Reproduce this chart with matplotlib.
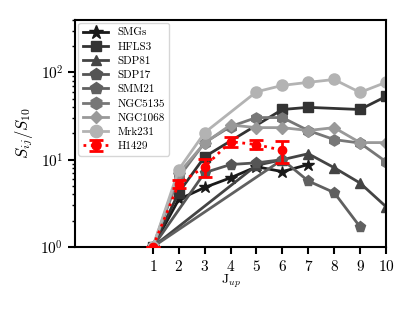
import matplotlib
matplotlib.use('Agg')
import matplotlib.pyplot as plt

plt.rcParams['font.family'] = 'serif'
plt.rcParams['font.serif'] = ['cmr10']
plt.rcParams['mathtext.fontset'] = 'cm'
plt.rcParams['axes.formatter.use_mathtext'] = True

# CO SLEDs normalised to CO(1-0)
smg_j = [1, 2, 3, 4, 5, 6, 7]
smg_s = [1, 3.5, 4.8, 6.2, 8.3, 7.3, 8.8]

hfls3_j = [1, 2, 3, 6, 7, 9, 10]
hfls3_s = [1, 4.2, 10.8, 37.6, 39.8, 37.6, 53]

sdp81_j = [1, 5, 6, 7, 8, 9, 10]
sdp81_s = [1, 8.6, 10.0, 11.7, 8.1, 5.4, 2.9]

sdp17_j = [1, 3, 4, 5, 6]
sdp17_s = [1, 7.1, 8.8, 9.2, 10.0]

smm21_j = [1, 6, 7, 8, 9]
smm21_s = [1, 10.0, 5.7, 4.2, 1.7]

ngc5135_j = [1, 2, 3, 4, 5, 6, 7, 8, 9, 10]
ngc5135_s = [1, 6.3, 15.7, 24, 30.4, 30.4, 21.6, 17, 15.5, 9.5]

ngc1068_j = [1, 2, 3, 4, 5, 6, 7, 8, 9, 10]
ngc1068_s = [1, 7.0, 15.5, 25, 23.3, 23.3, 21.6, 23.3, 15.7, 15.7]

mrk231_j = [1, 2, 3, 5, 6, 7, 8, 9, 10]
mrk231_s = [1, 7.7, 20.4, 60, 71, 77, 83, 59, 77]

h1429_j = [1, 2, 3, 4, 5, 6]
h1429_s = [1, 5.3, 8.3, 16.1, 14.9, 12.8]
h1429_err = [0, 0.6, 2.0, 2.0, 1.8, 3.6]

SERIES = [
    ('SMGs', smg_j, smg_s, '*', '#1a1a1a', 9),
    ('HFLS3', hfls3_j, hfls3_s, 's', '#333333', 7),
    ('SDP81', sdp81_j, sdp81_s, '^', '#444444', 7),
    ('SDP17', sdp17_j, sdp17_s, 'p', '#555555', 8),
    ('SMM21', smm21_j, smm21_s, 'p', '#606060', 8),
    ('NGC5135', ngc5135_j, ngc5135_s, 'h', '#777777', 8),
    ('NGC1068', ngc1068_j, ngc1068_s, 'D', '#999999', 6),
    ('Mrk231', mrk231_j, mrk231_s, 'o', '#b3b3b3', 8),
]


def main():
    fig = plt.figure(figsize=(4.15, 3.11), dpi=100)
    ax = fig.add_axes([0.181, 0.206, 0.749, 0.730])

    for name, j, s, mk, col, ms in SERIES:
        ax.plot(j, s, marker=mk, color=col, ms=ms, lw=2, label=name)

    ax.errorbar(h1429_j, h1429_s, yerr=h1429_err, fmt='o', ls=':',
                color='red', ms=6, lw=2, elinewidth=2, capsize=5,
                capthick=2, label='H1429', zorder=10)

    ax.set_yscale('log')
    ax.set_xlim(-2, 10)
    ax.set_ylim(1, 400)
    ax.set_xticks(range(1, 11))
    ax.tick_params(which='major', direction='out', length=5, width=1.5,
                   labelsize=11)
    ax.tick_params(which='minor', direction='out', length=2.5, width=1)
    for sp in ax.spines.values():
        sp.set_linewidth(1.5)

    ax.set_ylabel(r'$S_{ij}/S_{10}$', fontsize=12)
    ax.set_xlabel(r'J$_{up}$', fontsize=10, labelpad=-1)

    ax.legend(loc='upper left', fontsize=8, handlelength=2.3,
              labelspacing=0.4, borderaxespad=0.3, framealpha=0.8,
              markerscale=1.1)

    plt.savefig('out.png', dpi=100)


if __name__ == '__main__':
    main()
